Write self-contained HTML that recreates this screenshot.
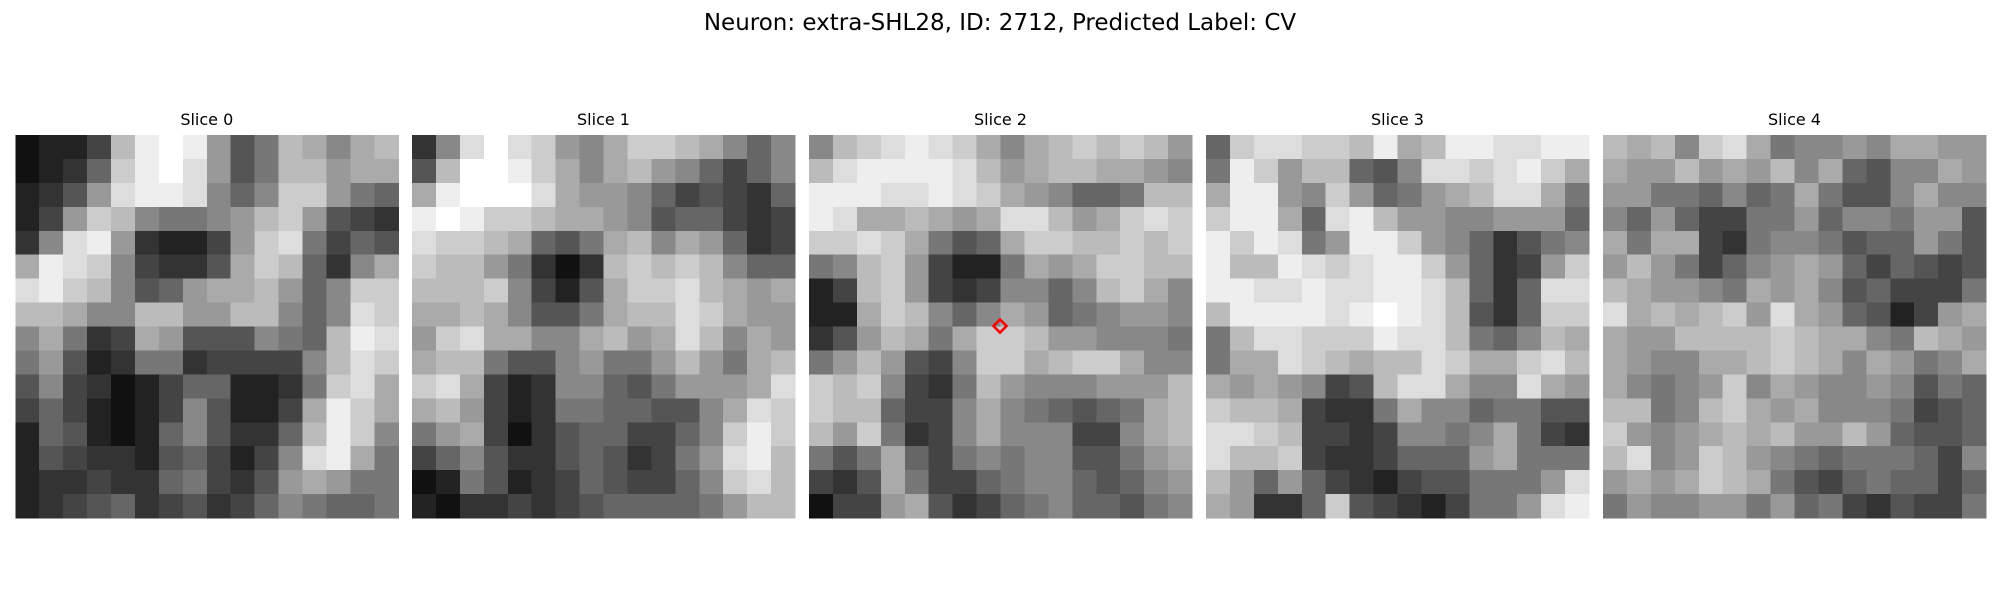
<!DOCTYPE html>
<html><head><meta charset="utf-8">
<style>
html,body{margin:0;padding:0;background:#fff;}
body{width:2000px;height:600px;overflow:hidden;font-family:"Liberation Sans","DejaVu Sans",sans-serif;}
</style></head>
<body>
<svg id="fig" width="2000" height="600" xmlns="http://www.w3.org/2000/svg">
<rect width="2000" height="600" fill="#fff"/>
<text x="1000" y="30" text-anchor="middle" font-family="DejaVu Sans, Liberation Sans, sans-serif" font-size="23" fill="#000">Neuron: extra-SHL28, ID: 2712, Predicted Label: CV</text>
<g id="panels"></g>
</svg>
<script>
const sliceTitles = ["Slice 0","Slice 1","Slice 2","Slice 3","Slice 4"];
const slice0 = ["1224befe957ba8ab","1236cefd957bb9aa","2359deed868cc976","249cb87789bc9543","38de932249cd7465","aedc84335acb638a","decb8569aab968cc","bba88bb99bb868dc","8a734a9555876bed","7952377344448bdc","5843124662237cda","464212485224aeca","265212685336bec8","254332564248dea7","233433674359a977","2345634534687667"];
const slice1 = ["38dfdc98accba868","5bffeca8ab986468","aefffda998645436","efeccbaa98566434","dccba657ab8a9634","cbb97313bcbcb866","bbbc8425accdba9a","aaba8557abbdca99","9cdaa88ab9adb8a9","abb75589779b97ab","cda42388657999ad","ab94237766558adc","79a4135664468cec","4685335653479deb","1275234654468cdb","21334345666679bb"];
const slice2 = ["8bcdedca8abcbcb9","bdeeeedb9abbaa98","eeeddedca98667bb","edaaba9addb9acdc","ccdca756accbbcbc","78bc94227a9accbb","24bc94348868bca8","22acb868a9678998","359ba7accb998887","79b9548ccabcca88","cbc8437b9888999b","cbb6448a876567ab","b9c7348a888448ab","757a64787885579a","435a744678865689","1449a53467866578"];
const slice3 = ["6cddccbeabeeddee","7ec9bb658ddcdeca","aee98c9679abdda7","ceea6deb99889996","eced79eec9863578","ebbedcdeec96349c","eeddeddeedb636dd","beeeedefedb536cc","7bddccceddb768ba","7aadcbabbdcaacdb","a9a9845bdda88da9","cbba4337a8867755","ddcb44348878a743","dbbc43346669a777","b96964324557779d","a9336c54324779de"];
const slice4 = ["bab8cda78898aa99","a99b9a9b8a6588a9","99776867a7558a88","8696447796887995","a7aa437887566975","9b974689a9646545","ba9987a9a8564447","dababc9da965249a","a99bbbbcbaa87ba9","a988aabcba8a978a","a8789c8a98898576","bb78bca9a8887456","c989abab99b96556","bd89cb9876777648","9a9acba754676646","7988997967435447"];
const slices = [slice0, slice1, slice2, slice3, slice4];
const markerCell = [16, 16];

const N = 16, panelLeft = [15.3, 412, 809, 1206, 1603], panelTop = 135, panelSize = 383;
const NS = "http://www.w3.org/2000/svg";
const g = document.getElementById('panels');
function cellVal(str, c){ const s = str.replace(/[^0-9a-fA-F]/g,''); const ch = s[c] !== undefined ? s[c] : s[s.length-1]; return parseInt(ch,16); }
function xScale(p, c){ return panelLeft[p] + c * panelSize / N; }
function yScale(r){ return panelTop + r * panelSize / N; }
slices.forEach((rows, p) => {
  const grp = document.createElementNS(NS,'g');
  
  
  grp.setAttribute('shape-rendering','crispEdges');
  rows.forEach((row, r) => {
    for (let c = 0; c < N; c++) {
      const v = cellVal(row, c) * 17;
      const rect = document.createElementNS(NS,'rect');
      
      
      const x0 = xScale(p, c), x1 = xScale(p, c+1), y0 = yScale(r), y1 = yScale(r+1);
      rect.setAttribute('x', x0); rect.setAttribute('y', y0);
      rect.setAttribute('width', x1 - x0 + 0.6); rect.setAttribute('height', y1 - y0 + 0.6);
      rect.setAttribute('fill', `rgb(${v},${v},${v})`);
      grp.appendChild(rect);
    }
  });
  g.appendChild(grp);
  const t = document.createElementNS(NS,'text');
  
  
  t.setAttribute('x', panelLeft[p] + panelSize/2);
  t.setAttribute('y', 125);
  t.setAttribute('text-anchor','middle');
  t.setAttribute('font-size','16');
  t.setAttribute('font-family','DejaVu Sans, Liberation Sans, sans-serif');
  t.textContent = sliceTitles[p];
  g.appendChild(t);
});
const cx = panelLeft[2] + markerCell[0] * panelSize / 32 - 0.5, cy = panelTop + markerCell[1] * panelSize / 32 - 0.5, d = 6.5;
const m = document.createElementNS(NS,'polygon');


m.setAttribute('points', `${cx},${cy-d} ${cx+d},${cy} ${cx},${cy+d} ${cx-d},${cy}`);
m.setAttribute('fill','none'); m.setAttribute('stroke','#f00'); m.setAttribute('stroke-width','2.6');
g.appendChild(m);
</script>
</body></html>
